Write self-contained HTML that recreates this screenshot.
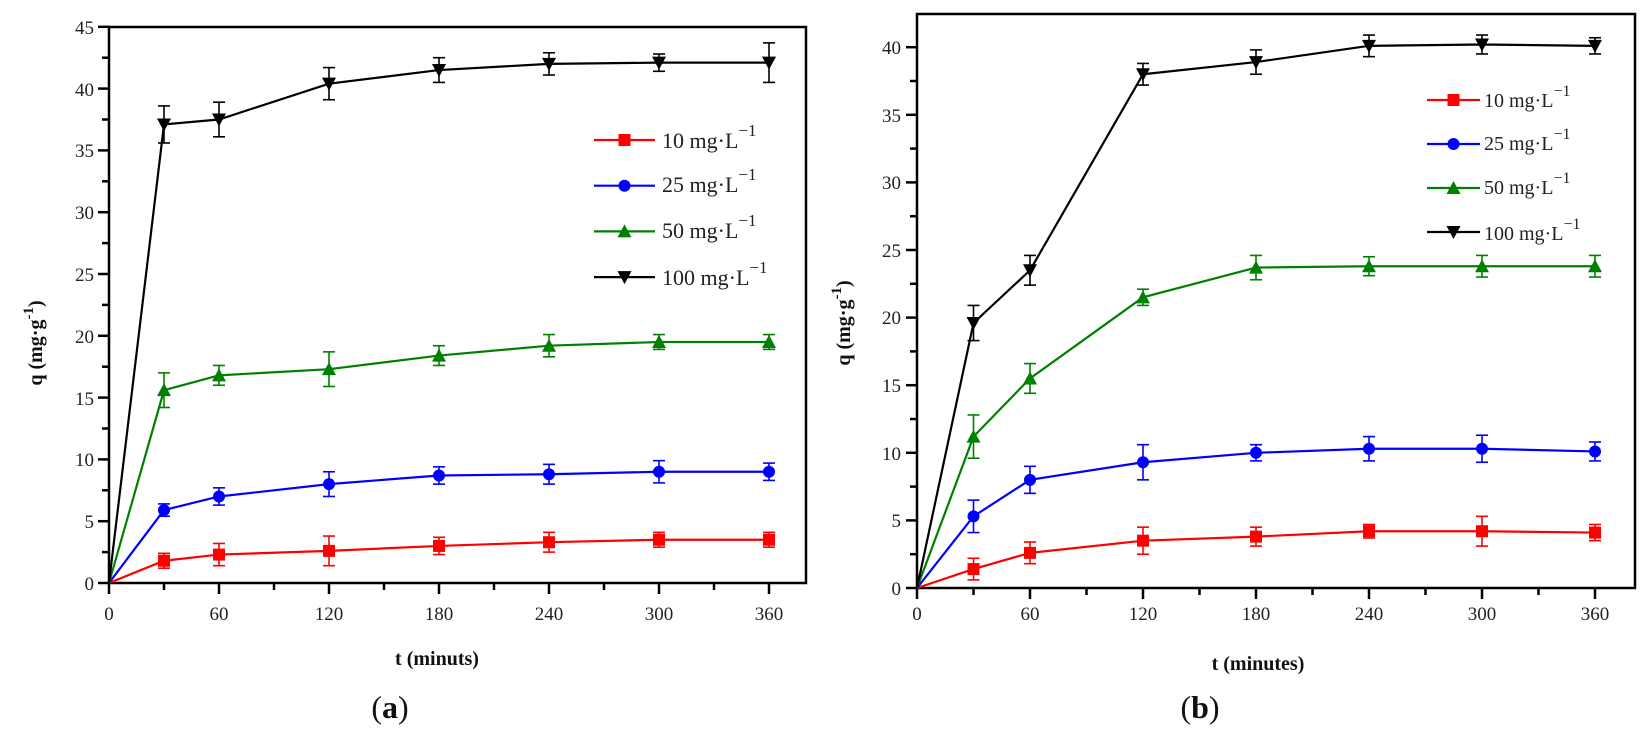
<!DOCTYPE html>
<html><head><meta charset="utf-8"><style>
html,body{margin:0;padding:0;background:#fff;}
svg{display:block;font-family:"Liberation Serif",serif;}
.t{font-size:19px;fill:#222;}
.lg{font-size:22px;fill:#222;}
.lg2{font-size:20px;fill:#222;}
.ax{font-size:20px;font-weight:bold;fill:#111;}
</style></head><body>
<svg id="s" width="1647" height="739" viewBox="0 0 1647 739" xmlns="http://www.w3.org/2000/svg">
<g id="g"></g>
<!-- Left chart text -->
<g class="t" text-anchor="end">
<text x="94" y="590">0</text><text x="94" y="528">5</text><text x="94" y="466">10</text><text x="94" y="405">15</text>
<text x="94" y="343">20</text><text x="94" y="281">25</text><text x="94" y="219">30</text><text x="94" y="157">35</text>
<text x="94" y="96">40</text><text x="94" y="34">45</text>
</g>
<g class="t" text-anchor="middle">
<text x="109" y="620">0</text><text x="219" y="620">60</text><text x="329" y="620">120</text><text x="439" y="620">180</text>
<text x="549" y="620">240</text><text x="659" y="620">300</text><text x="769" y="620">360</text>
</g>
<text class="ax" x="437" y="665" text-anchor="middle">t (minuts)</text>
<text class="ax" transform="translate(42,343) rotate(-90)" text-anchor="middle">q (mg·g<tspan dy="-9" font-size="15">-1</tspan><tspan dy="9">)</tspan></text>
<text x="390" y="718" font-size="32" text-anchor="middle" fill="#111">(<tspan font-weight="bold">a</tspan>)</text>
<g class="lg">
<text x="662" y="148">10 mg·L<tspan dy="-12" font-size="17">−1</tspan></text>
<text x="662" y="192">25 mg·L<tspan dy="-12" font-size="17">−1</tspan></text>
<text x="662" y="238">50 mg·L<tspan dy="-12" font-size="17">−1</tspan></text>
<text x="662" y="285">100 mg·L<tspan dy="-12" font-size="17">−1</tspan></text>
</g>
<!-- Right chart text -->
<g class="t" text-anchor="end">
<text x="901" y="595">0</text><text x="901" y="527">5</text><text x="901" y="460">10</text><text x="901" y="392">15</text>
<text x="901" y="324">20</text><text x="901" y="257">25</text><text x="901" y="189">30</text><text x="901" y="122">35</text>
<text x="901" y="54">40</text>
</g>
<g class="t" text-anchor="middle">
<text x="917" y="620">0</text><text x="1030" y="620">60</text><text x="1143" y="620">120</text><text x="1256" y="620">180</text>
<text x="1369" y="620">240</text><text x="1482" y="620">300</text><text x="1595" y="620">360</text>
</g>
<text class="ax" x="1258" y="670" text-anchor="middle">t (minutes)</text>
<text class="ax" transform="translate(850,323) rotate(-90)" text-anchor="middle">q (mg·g<tspan dy="-9" font-size="15">-1</tspan><tspan dy="9">)</tspan></text>
<text x="1200" y="718" font-size="32" text-anchor="middle" fill="#111">(<tspan font-weight="bold">b</tspan>)</text>
<g class="lg2">
<text x="1484" y="107">10 mg·L<tspan dy="-11" font-size="16">−1</tspan></text>
<text x="1484" y="150">25 mg·L<tspan dy="-11" font-size="16">−1</tspan></text>
<text x="1484" y="194">50 mg·L<tspan dy="-11" font-size="16">−1</tspan></text>
<text x="1484" y="240">100 mg·L<tspan dy="-11" font-size="16">−1</tspan></text>
</g>
</svg>
<script>
var NS="http://www.w3.org/2000/svg",G=document.getElementById("g");
function el(n,a){var e=document.createElementNS(NS,n);for(var k in a)e.setAttribute(k,a[k]);G.appendChild(e);return e;}
function ln(x1,y1,x2,y2,c,w){el("line",{x1:x1,y1:y1,x2:x2,y2:y2,stroke:c,"stroke-width":w});}
function marker(k,x,y,c,s){
 if(k==0)el("rect",{x:x-s,y:y-s,width:2*s,height:2*s,fill:c});
 else if(k==1)el("circle",{cx:x,cy:y,r:s,fill:c});
 else if(k==2)el("polygon",{points:(x-s-1)+","+(y+s)+" "+(x+s+1)+","+(y+s)+" "+x+","+(y-s-1),fill:c});
 else el("polygon",{points:(x-s-1)+","+(y-s)+" "+(x+s+1)+","+(y-s)+" "+x+","+(y+s+1),fill:c});
}
var cols=["#ff0000","#0000ff","#008000","#000000"];
var ts=[30,60,120,180,240,300,360];
function chart(P,D){
 var X=function(t){return P.x0+t*P.sx},Y=function(v){return P.y0-v*P.sy};
 // frame
 el("rect",{x:P.x0,y:P.top,width:P.right-P.x0,height:P.y0-P.top,fill:"none",stroke:"#000","stroke-width":2.5});
 for(var t=0;t<=360;t+=30){var maj=t%60==0;ln(X(t),P.y0,X(t),P.y0+(maj?11:7),"#000",2.5);}
 for(var v=0;v<=P.ymax+0.01;v+=2.5){var maj=(v%5==0);ln(P.x0,Y(v),P.x0-(maj?11:7),Y(v),"#000",2.5);}
 for(var s=0;s<4;s++){
  var d=D[s],pts=[[X(0),Y(0)]];
  for(var i=0;i<7;i++)pts.push([X(ts[i]),Y(d[i][0])]);
  el("polyline",{points:pts.map(function(p){return p.join(",")}).join(" "),fill:"none",stroke:cols[s],"stroke-width":2.2});
  for(var i=0;i<7;i++){var x=X(ts[i]),y=Y(d[i][0]),e=d[i][1]*P.sy;
   ln(x,y-e,x,y+e,cols[s],1.6);ln(x-6,y-e,x+6,y-e,cols[s],1.6);ln(x-6,y+e,x+6,y+e,cols[s],1.6);
   marker(s,x,y,cols[s],6);}
 }
 for(var s=0;s<4;s++){var y=P.leg[1]+s*P.leg[3];ln(P.leg[0],y,P.leg[0]+P.leg[2],y,cols[s],2.2);marker(s,P.leg[0]+P.leg[2]/2,y,cols[s],6);}
}
chart({x0:109,sx:110/60,y0:583,sy:12.36,top:27,right:806,ymax:45,leg:[594,140,61,45.7]},
[[[1.8,.6],[2.3,.9],[2.6,1.2],[3.0,.7],[3.3,.8],[3.5,.6],[3.5,.6]],
 [[5.9,.5],[7.0,.7],[8.0,1.0],[8.7,.7],[8.8,.8],[9.0,.9],[9.0,.7]],
 [[15.6,1.4],[16.8,.8],[17.3,1.4],[18.4,.8],[19.2,.9],[19.5,.6],[19.5,.6]],
 [[37.1,1.5],[37.5,1.4],[40.4,1.3],[41.5,1.0],[42.0,.9],[42.1,.7],[42.1,1.6]]]);
chart({x0:917,sx:113/60,y0:588,sy:13.52,top:14,right:1635,ymax:40,leg:[1427,100,53,44]},
[[[1.4,.8],[2.6,.8],[3.5,1.0],[3.8,.7],[4.2,.5],[4.2,1.1],[4.1,.6]],
 [[5.3,1.2],[8.0,1.0],[9.3,1.3],[10.0,.6],[10.3,.9],[10.3,1.0],[10.1,.7]],
 [[11.2,1.6],[15.5,1.1],[21.5,.6],[23.7,.9],[23.8,.7],[23.8,.8],[23.8,.8]],
 [[19.6,1.3],[23.5,1.1],[38.0,.8],[38.9,.9],[40.1,.8],[40.2,.7],[40.1,.6]]]);
</script>
</body></html>
